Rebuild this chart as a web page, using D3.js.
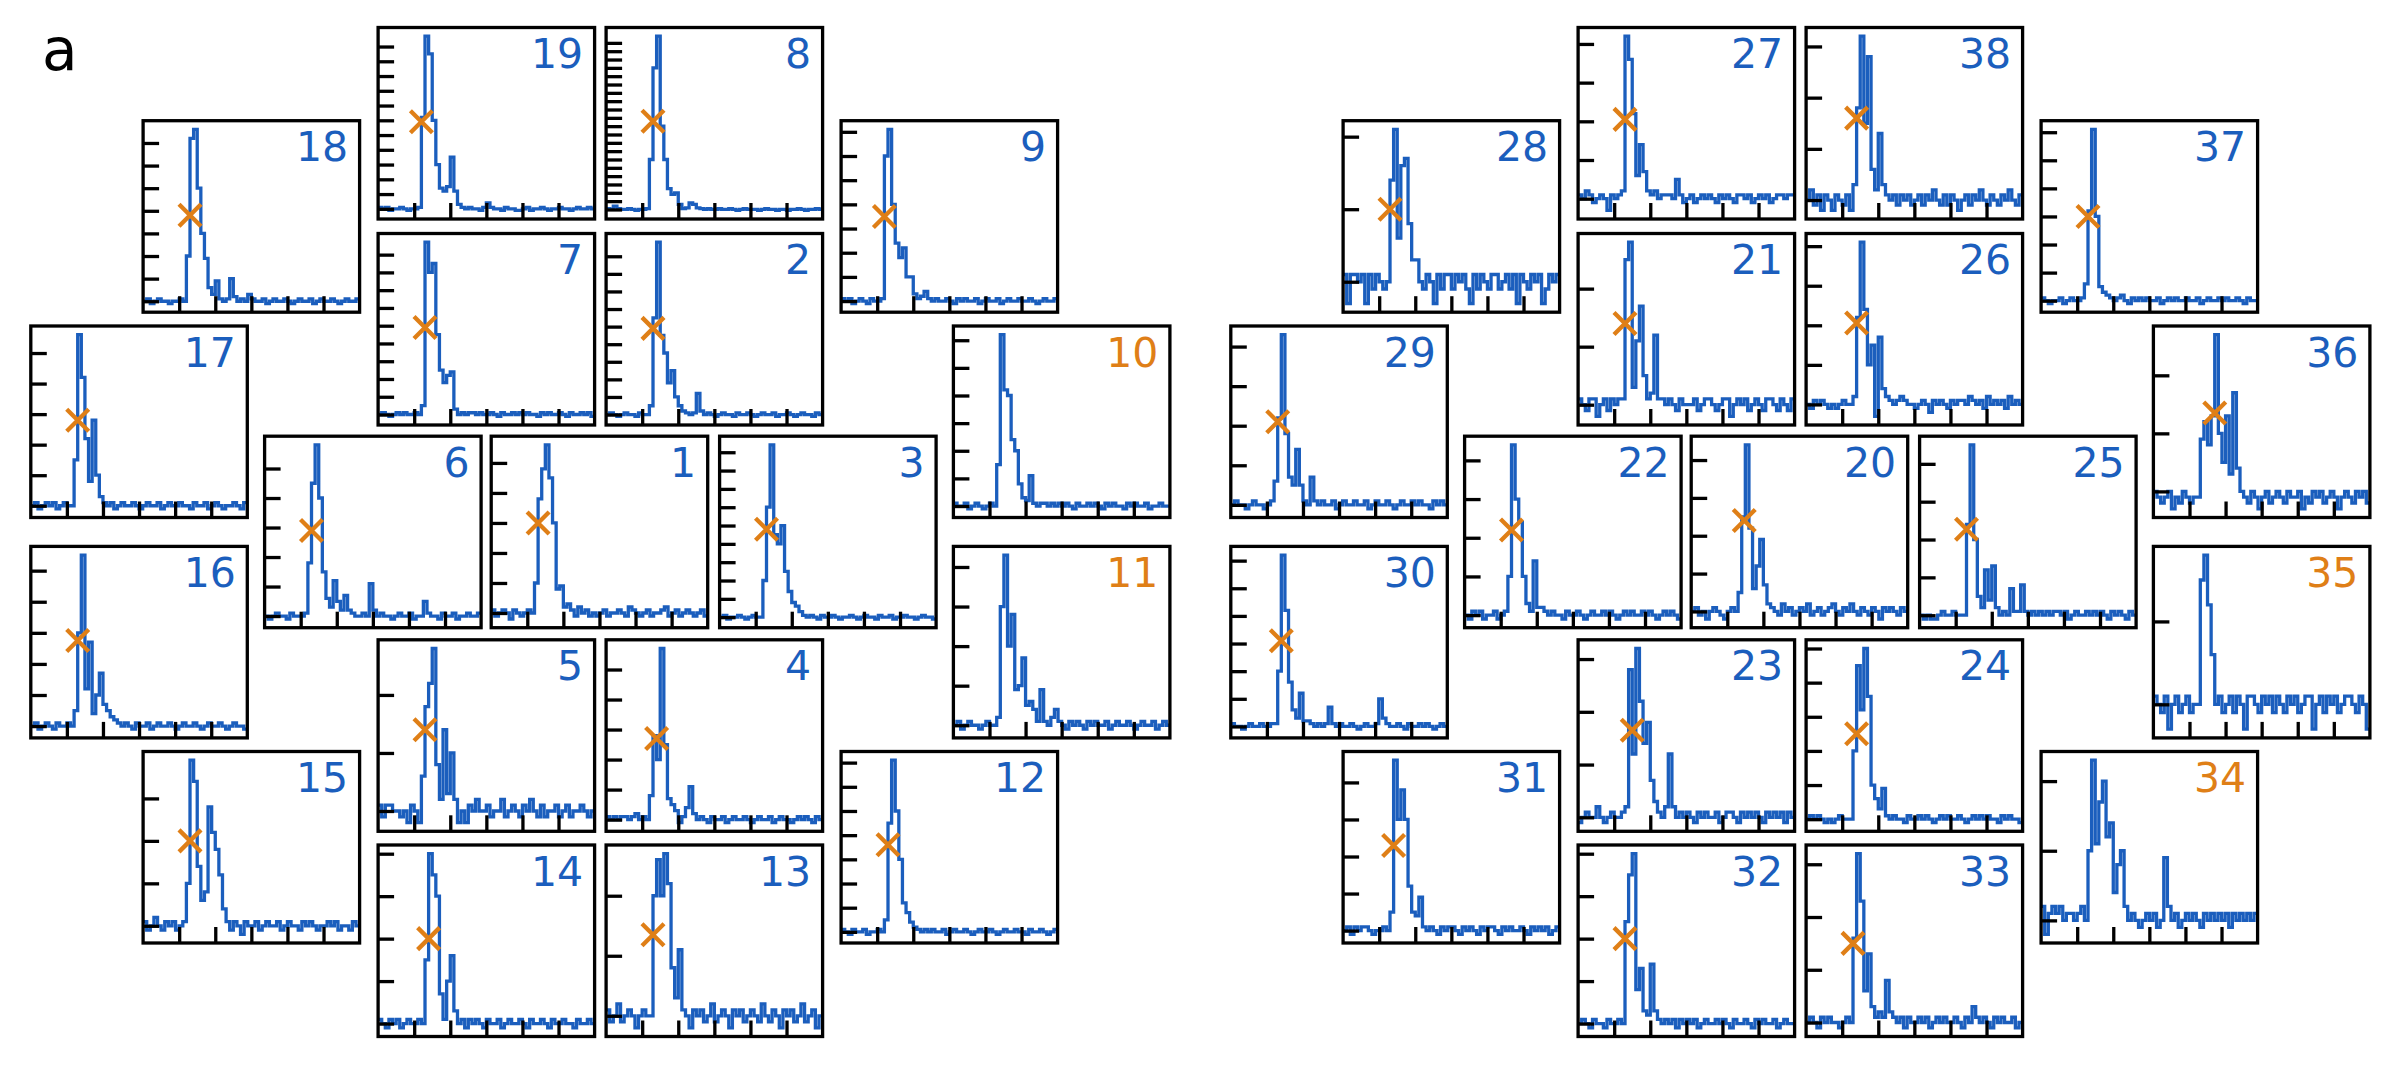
<!DOCTYPE html>
<html>
<head>
<meta charset="utf-8">
<script src="https://cdn.jsdelivr.net/npm/d3@7"></script>
<style>
  body { margin: 0; background: #fff; }
  svg { display: block; font-family: "DejaVu Sans", sans-serif; }
</style>
</head>
<body>
<svg id="chart" width="2400" height="1066"></svg>
<script>
// ---- data: binned waveform per channel (tick units x10, 60 bins each) ----
const h1 = [1,-1,0,1,0,-2,1,0,-1,0, 1,0,10,38,48,56,45,30,8,9, 2,3,1,-1,2,0,1,-1,0,-1, 0,1,-1,0,0,1,0,-1,2,1, 0,-1,0,1,-1,0,0,1,2,-1, 0,1,-1,0,1,0,-1,0,1,-1];
const h2 = [0,1,0,-1,0,1,0,0,-1,1, 0,0,5,55,98,45,35,18,25,10, 5,2,1,0,1,12,2,0,1,0, -1,0,1,0,0,-1,1,0,0,1, 0,-1,0,1,0,0,1,-1,0,0, 1,0,-1,0,1,0,0,-1,1,0];
const h3 = [0,1,-1,0,0,1,0,-1,0,1, 0,0,20,60,94,45,40,50,25,14, 8,6,3,1,0,1,0,-1,1,0, 0,1,0,-1,0,0,1,0,-1,0, 1,0,0,-1,1,0,0,1,-1,0, 0,1,0,0,-1,0,1,0,0,-1];
const h4 = [1,0,1,0,1,1,0,1,2,0, 1,0,8,28,20,57,25,7,5,3, -1,1,4,11,2,0,1,0,-1,1, 0,0,1,-1,0,1,0,0,1,0, -1,0,1,0,0,1,-1,0,1,0, 0,-1,0,1,0,1,0,-1,1,0];
const h5 = [1,-1,1,1,0,0,-1,0,-2,1, 0,-2,6,18,22,28,8,2,14,3, 10,2,-2,0,-2,1,0,2,0,0, 1,-1,0,0,2,-1,0,1,0,-1, 1,0,2,0,-1,1,-1,0,0,1, -1,0,1,-1,0,0,1,0,-1,0];
const h6 = [0,-1,0,1,0,0,-1,1,0,0, 0,1,18,45,58,40,15,6,3,12, 5,2,7,2,1,0,0,1,0,11, 2,0,1,0,0,-1,0,1,0,0, 1,-1,0,0,5,1,0,0,-1,1, 0,0,1,-1,0,0,1,0,0,1];
const h7 = [0,1,0,-1,0,1,0,1,0,0, 1,0,5,97,80,85,45,25,18,22, 24,3,0,1,0,1,1,0,1,0, 0,1,0,-1,1,0,0,1,0,1, 0,1,0,0,-1,1,0,1,0,0, 1,0,-1,1,0,0,1,0,1,-1];
const h8 = [1,0,4,1,0,0,1,0,-1,0, 0,1,60,170,208,100,60,25,18,20, 6,1,2,8,6,2,1,0,1,0, 0,1,0,0,1,0,-1,0,1,0, 0,0,-1,0,1,0,0,-1,0,0, -1,0,0,1,0,-1,0,0,1,0];
const h9 = [1,0,1,-1,0,1,0,-1,1,0, 0,1,60,71,40,24,18,22,10,10, 3,1,2,4,1,0,1,0,0,1, 0,-1,1,0,1,0,0,1,-1,0, 1,0,0,1,-1,0,1,0,0,1, 0,0,1,0,-1,0,1,0,0,1];
const h10 = [1,0,0,1,-1,0,1,0,-1,0, 1,0,15,62,42,40,24,20,8,3, 2,11,1,0,1,1,0,1,0,1, 0,1,0,-1,1,0,0,1,0,1, 0,-1,1,0,1,0,0,-1,1,0, 1,0,0,1,-1,0,0,1,0,0];
const h11 = [0,1,-1,0,1,0,0,-1,0,1, 0,0,2,30,43,20,28,9,10,17, 5,6,4,1,9,1,0,2,4,1, 0,-1,1,0,1,0,-1,1,0,1, 0,0,1,-1,0,1,0,0,1,0, -1,0,1,0,0,1,-1,0,1,0];
const h12 = [1,0,-1,1,0,0,1,-1,0,0, 1,0,5,45,71,50,30,12,8,4, 2,1,0,1,0,1,0,0,1,-1, 0,1,0,0,1,0,-1,0,1,0, 0,1,0,-1,0,1,0,0,1,0, 0,-1,1,0,0,1,0,-1,0,1];
const h13 = [1,-1,0,2,-1,0,1,0,-2,0, 1,0,0,20,26,20,27,22,8,3, 11,1,0,-2,1,0,1,-1,0,2, -1,0,1,0,-2,1,0,1,-1,0, 1,0,-1,2,0,-1,1,0,-2,1, 0,1,-1,0,2,-1,0,1,-2,0];
const h14 = [1,0,-1,1,0,1,-1,0,1,0, 0,1,0,15,40,35,30,7,1,10, 16,3,0,1,-1,1,0,1,0,-1, 1,0,0,1,-1,0,1,0,0,1, 0,-1,1,0,0,1,0,-1,1,0, 0,1,0,0,-1,1,0,0,1,0];
const h15 = [1,-1,0,2,0,-1,1,0,1,-1, 0,1,10,39,34,14,6,8,28,22, 18,12,4,1,-1,1,0,-2,1,0, 0,1,-1,0,1,0,0,1,-1,0, 1,0,0,-1,1,0,1,0,-1,0, 0,1,0,1,-1,0,0,-1,1,0];
const h16 = [0,1,-1,0,1,0,-1,1,0,0, 1,0,5,30,55,12,27,4,10,17, 7,5,3,2,1,0,1,0,-1,1, 0,0,1,-1,0,1,0,0,1,0, -1,0,1,0,0,1,0,-1,0,1, 0,0,1,0,-1,0,1,0,0,-1];
const h17 = [0,1,-1,0,1,0,1,-1,0,1, 0,0,15,56,42,22,8,28,10,3, 1,0,1,-1,0,1,0,0,1,0, -1,0,1,0,0,1,-1,0,1,0, 0,1,0,0,-1,1,0,0,1,-1, 0,1,0,-1,0,0,1,0,-1,1];
const h18 = [0,1,-1,0,1,0,0,-1,0,0, 1,0,20,72,76,50,30,19,6,3, 9,1,0,1,10,2,0,1,0,3, 1,0,0,1,-1,0,1,0,0,1, 0,-1,0,1,0,0,1,-1,0,1, 0,0,1,0,-1,0,1,0,0,1];
const h19 = [1,0,1,-1,0,0,1,0,-1,0, 0,1,62,117,105,60,30,14,12,15, 35,12,3,1,0,1,0,0,-1,1, 4,1,0,0,-1,1,0,0,-1,-1, 0,1,-1,0,0,1,0,-1,0,0, 1,0,0,-1,0,1,0,0,1,0];
const h20 = [0,1,-1,0,-2,0,1,0,-1,-2, 0,1,0,5,25,44,22,6,12,19, 7,2,1,0,-1,2,0,1,-1,0, 1,0,2,-1,0,1,-1,0,1,2, 0,-1,1,0,2,0,-1,1,0,-1, 1,0,-2,1,0,1,0,-1,1,0];
const h21 = [1,0,-1,1,1,-2,0,1,-1,1, 0,1,1,25,28,3,11,17,5,1, 2,12,1,1,0,1,0,-1,1,0, 0,0,1,-1,0,1,1,0,-1,0, 1,1,-2,0,1,0,1,-1,0,1, 0,-1,1,1,0,-1,1,0,-1,1];
const h22 = [0,-1,1,0,1,-1,0,0,1,-1, 0,1,10,44,30,24,10,3,1,14, 2,2,1,0,1,0,0,-1,1,0, 0,1,0,-1,0,1,0,0,1,0, 1,0,-1,0,1,0,1,0,0,1, 0,1,0,-1,0,1,0,1,0,-1];
const h23 = [-1,0,1,0,0,2,0,-1,0,1, 0,0,1,2,28,12,32,22,14,18, 7,3,1,0,2,12,2,0,1,0, 1,0,-1,1,0,1,0,0,1,-1, 0,1,1,0,-1,1,0,1,0,1, 0,-1,1,0,1,0,1,-1,1,0];
const h24 = [0,1,0,1,0,-1,0,-1,0,1, 0,0,0,20,45,32,50,36,10,6, 3,9,1,0,1,0,0,-1,1,0, 0,1,0,1,0,-1,0,1,0,1, 0,0,1,0,-1,0,1,0,1,0, 1,0,0,-1,1,0,1,0,0,-1];
const h25 = [0,-1,0,-1,-1,0,1,0,0,1, 0,0,0,24,45,20,5,2,12,4, 13,2,0,1,0,7,1,1,8,1, 0,1,0,1,0,1,0,1,1,0, 1,-1,0,1,0,0,1,0,1,0, 1,0,-1,1,0,1,0,-1,1,0];
const h26 = [0,-1,1,0,1,0,-1,0,-1,0, 1,0,0,2,22,41,24,10,15,-3, 17,4,2,1,0,1,2,1,0,0, -1,0,1,0,-2,1,0,1,0,-1, 1,0,1,1,0,2,1,0,1,-1, 2,0,1,0,1,-1,2,0,1,0];
const h27 = [1,0,2,1,-1,0,1,0,-3,1, 0,1,2,42,36,22,6,14,7,2, 1,2,0,1,1,1,0,5,1,-1, 0,1,-1,0,1,0,1,0,-1,1, 0,1,0,-1,1,1,0,1,-1,0, 1,0,1,-1,0,1,1,0,1,1];
const h28 = [1,-3,1,1,0,1,-3,1,-1,1, 0,-1,0,14,21,6,16,17,8,3, 3,0,-1,1,0,-3,1,-1,1,1, -1,1,0,1,-1,-3,1,-1,1,0, -1,1,1,-1,0,1,-1,1,-3,1, 0,-1,1,0,1,-3,-1,1,0,1];
const h29 = [0,1,0,0,-1,0,1,0,0,-1, 0,1,6,22,43,18,7,5,14,5, 1,0,7,1,0,1,0,0,1,-1, 0,1,0,0,1,0,0,1,-1,0, 1,0,0,1,0,-1,0,1,0,0, 1,0,1,0,0,-1,1,0,1,0];
const h30 = [1,0,0,-1,0,1,0,0,1,0, 0,1,1,20,62,42,16,6,3,12, 2,2,1,0,1,0,1,7,1,0, 1,0,0,1,0,-1,0,1,0,0, 1,10,3,1,0,0,1,0,-1,1, 0,0,1,0,1,0,-1,0,1,0];
const h31 = [0,1,-1,1,0,1,1,0,-1,0, 0,1,0,5,46,30,38,30,12,5, 4,9,1,0,1,0,-1,1,0,1, 1,0,-1,1,0,1,0,-1,1,0, 1,1,0,-1,1,0,1,0,0,1, 0,-1,1,0,1,0,1,-1,0,1];
const h32 = [0,1,0,-1,1,0,0,-1,1,0, 0,1,0,24,35,40,8,13,3,2, 14,3,1,0,1,0,1,-1,1,0, 1,0,1,-1,0,1,0,0,1,0, 1,0,-1,1,0,0,1,0,-1,1, 0,1,0,0,1,-1,0,1,0,0];
const h33 = [0,1,0,-1,1,0,1,0,0,-1, 0,1,0,16,32,23,6,13,3,1, 2,1,8,2,1,0,1,-1,1,0, 0,1,0,1,-1,0,1,0,1,0, 0,1,0,-1,1,0,3,1,0,1, 0,-1,1,0,1,0,0,1,-1,0];
const h34 = [2,-2,1,2,1,2,0,1,1,0, 1,2,0,10,23,11,17,20,12,14, 4,8,10,2,0,1,0,-1,0,1, 0,1,-1,0,9,2,0,1,-1,0, 1,0,1,0,-1,1,0,1,0,1, 0,1,-1,1,0,1,0,1,0,1];
const h35 = [1,0,-1,1,-3,0,1,-1,0,1, -1,0,0,15,18,12,6,0,1,-1, 0,1,-1,1,0,-3,1,1,0,-1, 1,0,1,-1,1,0,-1,1,0,1, -1,0,1,1,-3,0,1,-1,1,0, 1,-1,0,1,1,0,-1,1,0,-3];
const h36 = [0,-1,-2,-1,0,-3,-1,-2,0,-1, -2,-1,-1,9,12,8,13,27,10,5, 13,3,17,4,0,-1,-2,0,-1,-3, -1,0,-2,-1,0,-1,-2,0,-1,-1, 0,-3,-1,-2,0,-1,0,-2,-1,0, -1,-3,-1,0,-1,-2,0,-1,0,-2];
const h37 = [1,0,-1,0,0,1,-1,0,1,0, 0,1,6,32,61,30,5,3,2,1, 0,1,2,0,-1,1,0,1,0,1, 0,0,1,-1,0,1,0,1,0,0, 1,0,0,1,-1,0,1,0,0,1, 0,1,0,0,1,0,-1,1,0,0];
const h38 = [0,2,-1,1,-2,1,0,-2,1,0, -1,1,-2,3,18,32,15,28,6,2, 13,3,1,0,1,-1,1,0,1,-1, 0,1,-1,1,0,2,0,-1,1,-1, 1,0,-2,0,1,-1,1,0,2,0, -1,1,0,-1,1,0,2,0,-1,1];

const series = [h1,h2,h3,h4,h5,h6,h7,h8,h9,h10,h11,h12,h13,h14,h15,h16,h17,h18,h19,
                h20,h21,h22,h23,h24,h25,h26,h27,h28,h29,h30,h31,h32,h33,h34,h35,h36,h37,h38];
const labels = d3.range(1, 39);
const flagged = [10, 11, 34, 35];   // drawn in orange, no marker

// onset marker (bin position, value) per channel; null where flagged
const markerX = [13,13,13,14,13,13,13,13,12,null,null,13,13,14,13,13,13,13,12,
                 14.7,13,13,15,14,13,14,13,13,13,14,14,13,13,null,null,17,13,14];
const markerY = [30,49,48,27,14,29,49,106,35,null,null,36,13.5,20,20,27.5,28,38,59,
                 24,14,22,16.5,25,22.7,20.6,20.5,10,21,31,23,20,15,null,null,13.5,30,16];

// ---- layout: hexagonal placement of the 19 channels in each module ----
const hexCol = [4,5,6,5,3,2,3,5,7,8,8,7,5,3,1,0,0,1,3, 4,3,2,3,5,6,5,3,1,0,0,1,3,5,7,8,8,7,5];
const hexRow = [4,2,4,6,6,4,2,0,1,3,5,7,8,8,7,5,3,1,0, 4,2,4,6,6,4,2,0,1,3,5,7,8,8,7,5,3,1,0];
const colLeft = [30.8, 143.1, 264.6, 378.1, 491.2, 606.1, 719.6, 841.1, 953.4];
const rowTop = [27.5, 120.7, 233.5, 326, 436.2, 546.4, 639.8, 751.5, 845];
const moduleOffset = [0, 1200];

const W = 216.5, H = 191.5;
const tickLen = 16;
const blue = "#1b5ebd", orange = "#df7f17";

const svg = d3.select("#chart");

svg.append("text")
  .attr("x", 42)
  .attr("y", 70)
  .attr("font-size", 58)
  .attr("fill", "#000")
  .text("a");

const defs = svg.append("defs");

series.forEach(function (vals, i) {
  var label = labels[i];
  var isFlag = flagged.indexOf(label) >= 0;
  var left = colLeft[hexCol[i]] + moduleOffset[i < 19 ? 0 : 1];
  var top = rowTop[hexRow[i]];
  var n = vals.length;

  var x = d3.scaleLinear().domain([0, n]).range([0, W]);
  var ext = d3.extent(vals);
  var pad = 0.05 * (ext[1] - ext[0]);
  var y = d3.scaleLinear().domain([ext[0] - pad, ext[1] + pad]).range([H, 0]);

  var g = svg.append("g").attr("transform", "translate(" + left + "," + top + ")");

  defs.append("clipPath")
    .attr("id", "clip" + label)
    .append("rect")
    .attr("width", W)
    .attr("height", H);

  // step outline of the binned trace
  var pts = vals.map(function (v, k) { return [k, v]; });
  pts.push([n, vals[n - 1]]);
  var line = d3.line()
    .x(function (d) { return x(d[0]); })
    .y(function (d) { return y(d[1]); })
    .curve(d3.curveStepAfter);

  g.append("path")
    .datum(pts)
    .attr("clip-path", "url(#clip" + label + ")")
    .attr("d", line)
    .attr("fill", "none")
    .attr("stroke", blue)
    .attr("stroke-width", 3.3)
    .attr("stroke-linejoin", "miter");

  // onset marker
  if (!isFlag && markerX[i] != null) {
    g.append("path")
      .attr("transform", "translate(" + x(markerX[i]) + "," + y(markerY[i]) + ")")
      .attr("d", "M-11,-11L11,11M-11,11L11,-11")
      .attr("stroke", orange)
      .attr("stroke-width", 4.3)
      .attr("fill", "none");
  }

  // inward ticks, no labels
  var yTicks = d3.range(0, ext[1] + 1e-9, 10);
  var yAxis = g.append("g")
    .call(d3.axisLeft(y).tickValues(yTicks).tickSize(-tickLen).tickFormat(""));
  var xAxis = g.append("g")
    .attr("transform", "translate(0," + H + ")")
    .call(d3.axisBottom(x).tickValues(d3.range(1, 6).map(function (k) { return k * n / 6; }))
      .tickSize(-tickLen).tickFormat(""));
  [yAxis, xAxis].forEach(function (a) {
    a.select(".domain").remove();
    a.selectAll("line").attr("stroke", "#000").attr("stroke-width", 3.3);
  });

  g.append("rect")
    .attr("width", W)
    .attr("height", H)
    .attr("fill", "none")
    .attr("stroke", "#000")
    .attr("stroke-width", 3.3);

  g.append("text")
    .attr("x", W - 11.5)
    .attr("y", 40.5)
    .attr("text-anchor", "end")
    .attr("font-size", 41)
    .attr("fill", isFlag ? orange : blue)
    .text(label);
});
</script>
</body>
</html>
